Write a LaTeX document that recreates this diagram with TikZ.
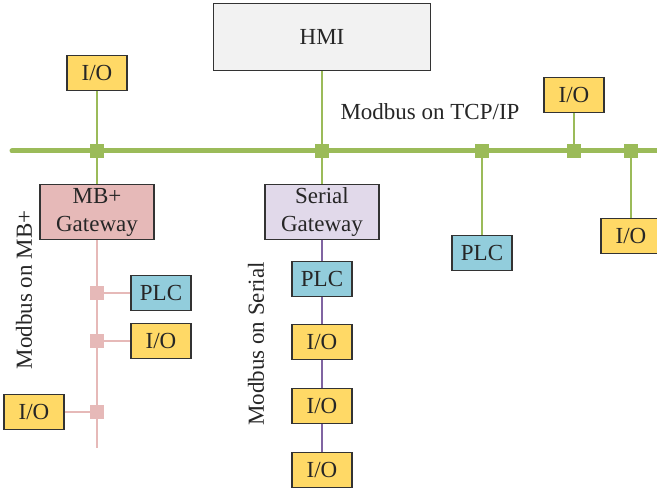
\documentclass[tikz,border=0pt]{standalone}
\usepackage{fontspec}
\setmainfont{Liberation Serif}
\usetikzlibrary{backgrounds}
\definecolor{ioyellow}{HTML}{FFD966}
\definecolor{plcblue}{HTML}{92CDDC}
\definecolor{busgreen}{HTML}{9BBB59}
\definecolor{mbpink}{HTML}{E6B9B8}
\definecolor{serialpurple}{HTML}{8064A2}
\definecolor{serialfill}{HTML}{E1D9EA}
\definecolor{hmigray}{HTML}{F2F2F2}
\begin{document}
\begin{tikzpicture}[
    x=0.5pt, y=-0.5pt,
    box/.style={
        draw=black!80, line width=0.7pt, minimum width=30pt, minimum height=17.5pt,
        inner sep=0pt, text=black!85, font=\fontsize{11.5}{13}\selectfont
    },
    io/.style={box, fill=ioyellow},
    plc/.style={box, fill=plcblue},
    gateway/.style={
        box, minimum width=57pt, minimum height=27.5pt, align=center,
        font=\fontsize{11.5}{14}\selectfont
    },
    hmibox/.style={box, fill=hmigray, minimum width=108.5pt, minimum height=33.5pt},
    tap/.style={fill=#1, minimum size=7pt, inner sep=0pt},
    netlabel/.style={text=black!85, font=\fontsize{11.5}{13}\selectfont},
    bus/.style={busgreen, line width=2.5pt, line cap=round},
    drop/.style={busgreen, line width=0.75pt},
    mbline/.style={mbpink, line width=0.8pt},
    serline/.style={serialpurple, line width=0.6pt}
]
\useasboundingbox (0,0) rectangle (657,491);

% Ethernet backbone
\node[hmibox] (hmi) at (322,37) {HMI};
\foreach \n/\x in {1/97, 2/322, 3/482, 4/574, 5/631} {
    \node[tap=busgreen] (t\n) at (\x,151) {};
}
\coordinate (busL) at (12,151);
\coordinate (busR) at (662,151);
\node[io] (io1) at (97,73) {I/O};
\node[io] (io2) at (574,95) {I/O};
\node[io] (io3) at (631,236) {I/O};
\node[plc] (plc1) at (482,253) {PLC};
\node[netlabel] (tcp) at (430,112) {Modbus on TCP/IP};

% gateways
\node[gateway, fill=mbpink] (mbgw) at (97,212) {MB+\\Gateway};
\node[gateway, fill=serialfill] (sgw) at (322,212) {Serial\\Gateway};

% MB+ branch
\foreach \n/\y in {1/293, 2/341, 3/412} {
    \node[tap=mbpink] (m\n) at (97,\y) {};
}
\coordinate (mbEnd) at (97,448);
\node[plc] (plc2) at (161,293) {PLC};
\node[io] (io4) at (161,341) {I/O};
\node[io] (io5) at (34,412) {I/O};
\node[netlabel, rotate=90] (mblbl) at (24,290) {Modbus on MB+};

% serial branch
\node[plc] (plc3) at (322,279) {PLC};
\foreach \n/\y in {1/342, 2/406, 3/470} {
    \node[io] (s\n) at (322,\y) {I/O};
}
\node[netlabel, rotate=90] (serlbl) at (256,344) {Modbus on Serial};

\begin{pgfonlayer}{background}
    \draw[bus] (busL) -- (busR);
    \draw[drop] (io1) -- (t1) -- (mbgw);
    \draw[drop] (hmi) -- (t2) -- (sgw);
    \draw[drop] (t3) -- (plc1);
    \draw[drop] (io2) -- (t4);
    \draw[drop] (t5) -- (io3);
    \draw[mbline] (mbgw) -- (mbEnd);
    \draw[mbline] (m1) -- (plc2);
    \draw[mbline] (m2) -- (io4);
    \draw[mbline] (io5) -- (m3);
    \draw[serline] (sgw) -- (s3);
\end{pgfonlayer}
\end{tikzpicture}
\end{document}
